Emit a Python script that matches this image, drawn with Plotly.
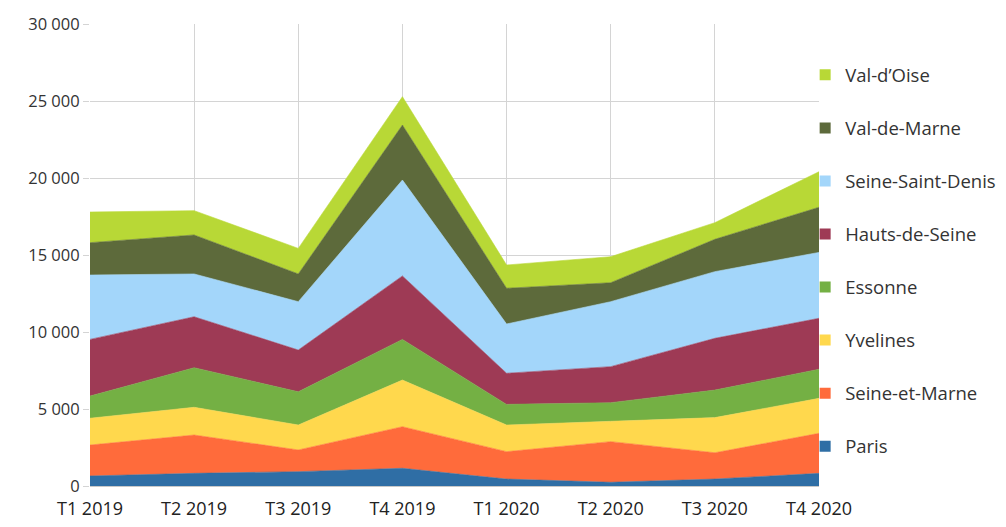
import plotly.graph_objects as go

# Quarters on the x axis
quarters = ["T1 2019", "T2 2019", "T3 2019", "T4 2019",
            "T1 2020", "T2 2020", "T3 2020", "T4 2020"]

# Values per département (stacked bottom to top)
paris = [650, 820, 930, 1150, 450, 240, 450, 820]
seine_et_marne = [2010, 2490, 1410, 2700, 1780, 2640, 1710, 2600]
yvelines = [1740, 1800, 1620, 3030, 1730, 1300, 2280, 2270]
essonne = [1440, 2570, 2160, 2640, 1340, 1230, 1790, 1890]
hauts_de_seine = [3680, 3310, 2710, 4120, 2020, 2340, 3360, 3310]
seine_saint_denis = [4180, 2780, 3140, 6230, 3200, 4220, 4330, 4280]
val_de_marne = [2100, 2530, 1800, 3570, 2320, 1230, 2100, 2930]
val_d_oise = [1990, 1580, 1660, 1840, 1510, 1690, 1080, 2310]

series = [
    ("Paris", paris, "#2f6ea5"),
    ("Seine-et-Marne", seine_et_marne, "#ff6b3b"),
    ("Yvelines", yvelines, "#ffd84d"),
    ("Essonne", essonne, "#74b044"),
    ("Hauts-de-Seine", hauts_de_seine, "#9e3a55"),
    ("Seine-Saint-Denis", seine_saint_denis, "#a3d6fa"),
    ("Val-de-Marne", val_de_marne, "#5d6a3b"),
    ("Val-d\u2019Oise", val_d_oise, "#b8d836"),
]

fig = go.Figure()
n = len(series)
for i, (name, vals, color) in enumerate(series):
    # stacked area
    fig.add_trace(go.Scatter(
        x=quarters, y=vals, name=name,
        mode="lines", stackgroup="one",
        line=dict(width=0.6, color=color),
        fillcolor=color,
        showlegend=False,
    ))
    # square legend key (top of the legend = top of the stack)
    fig.add_trace(go.Scatter(
        x=[None], y=[None], name=name, mode="markers",
        marker=dict(symbol="square", size=11, color=color),
        legendgroup=f"g{i}", legendrank=n - i,
        showlegend=True,
    ))

font = "'Open Sans', sans-serif"
fig.update_layout(
    width=1006, height=527,
    margin=dict(l=90, r=187, t=24, b=41, autoexpand=False),
    paper_bgcolor="white", plot_bgcolor="white",
    separators=", ",
    font=dict(family=font, size=16, color="#333333"),
    showlegend=True,
    legend=dict(
        x=0.981, xanchor="left", y=0.93, yanchor="top",
        traceorder="grouped", tracegroupgap=26,
        font=dict(family=font, size=18.5, color="#333333"),
        bgcolor="rgba(0,0,0,0)",
        itemwidth=30,
    ),
    xaxis=dict(
        type="category", range=[0, 7], automargin=False,
        showgrid=True, gridcolor="#d4d4d4", gridwidth=1,
        showline=False, zeroline=False,
        ticks="", ticklabelstandoff=10,
        tickfont=dict(family=font, size=18, color="#222222"),
    ),
    yaxis=dict(
        range=[0, 30000], dtick=5000, tickformat=",d", automargin=False,
        showgrid=True, gridcolor="#d4d4d4", gridwidth=1,
        zeroline=True, zerolinecolor="#c8c8c8",
        ticks="outside", ticklen=6, tickcolor="#d4d4d4",
        tickfont=dict(family=font, size=16.5, color="#333333"),
    ),
)

fig.write_html("out.html")
